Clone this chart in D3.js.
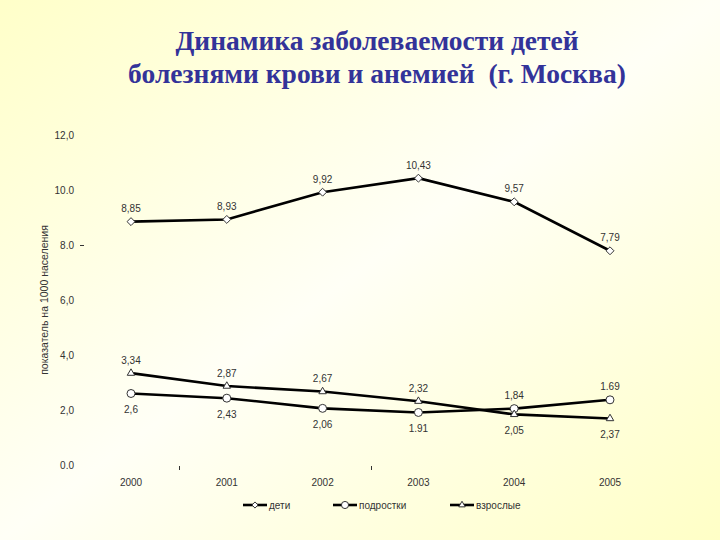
<!DOCTYPE html>
<html>
<head>
<meta charset="utf-8">
<script src="https://cdn.jsdelivr.net/npm/d3@7"></script>
<style>
  html, body { margin: 0; padding: 0; }
  svg { display: block; }
</style>
</head>
<body>
<script>
// ---- data ----
const years = ["2000", "2001", "2002", "2003", "2004", "2005"];
const kids = [8.85, 8.93, 9.92, 10.43, 9.57, 7.79];
const teens = [2.6, 2.43, 2.06, 1.91, 2.05, 2.37];
const adults = [3.34, 2.87, 2.67, 2.32, 1.84, 1.69];
const kidsLabels = ["8,85", "8,93", "9,92", "10,43", "9,57", "7,79"];
const teensLabels = ["2,6", "2,43", "2,06", "1.91", "2,05", "2,37"];
const adultsLabels = ["3,34", "2,87", "2,67", "2,32", "1,84", "1.69"];
const yTickValues = [0, 2, 4, 6, 8, 10, 12];
const yTickLabels = ["0.0", "2,0", "4,0", "6,0", "8.0", "10.0", "12,0"];
const yMarkTicks = [8];
const xMarkTicks = [0.5, 2.5];
const seriesNames = ["дети", "подростки", "взрослые"];
const titleLines = ["Динамика заболеваемости детей", "болезнями крови и анемией  (г. Москва)"];
const yTitle = "показатель на 1000 населения";

// ---- setup ----
const W = 720, H = 540;
const svg = d3.select("body").append("svg").attr("width", W).attr("height", H);

const defs = svg.append("defs");
const grad = defs.append("linearGradient").attr("id", "bg")
  .attr("x1", "0").attr("y1", "0").attr("x2", "1").attr("y2", "1");
grad.append("stop").attr("offset", "0").attr("stop-color", "#ffffc9");
grad.append("stop").attr("offset", "0.5").attr("stop-color", "#fffff6");
grad.append("stop").attr("offset", "1").attr("stop-color", "#ffffc6");
svg.append("rect").attr("width", W).attr("height", H).attr("fill", "url(#bg)");

// title
svg.append("g").selectAll("text").data(titleLines).join("text")
  .attr("x", 377).attr("y", (d, i) => 50 + i * 33)
  .attr("text-anchor", "middle")
  .attr("font-family", "'Liberation Serif', 'Times New Roman', serif")
  .attr("font-weight", "bold").attr("font-size", 27.5)
  .attr("fill", "#333399")
  .style("white-space", "pre")
  .text(d => d);

const x = d3.scalePoint().domain(d3.range(years.length)).range([131, 610]);
const xc = d3.scaleLinear().domain([0, years.length - 1]).range([131, 610]);
const y = d3.scaleLinear().domain([0, 12]).range([465, 135]);

const font = "'Liberation Sans', Arial, sans-serif";
const textCol = "#333";

// y tick labels
svg.append("g").selectAll("text").data(yTickValues).join("text")
  .attr("x", 74).attr("y", d => y(d)).attr("dy", "0.35em")
  .attr("text-anchor", "end").attr("font-family", font).attr("font-size", 10)
  .attr("fill", textCol).text((d, i) => yTickLabels[i]);
svg.append("g").selectAll("line").data(yMarkTicks).join("line")
  .attr("x1", 80).attr("x2", 84).attr("y1", d => y(d) + 0.5).attr("y2", d => y(d) + 0.5)
  .attr("stroke", "#333").attr("stroke-width", 1);

// y title
svg.append("text")
  .attr("transform", `translate(48, ${y(6)}) rotate(-90)`)
  .attr("text-anchor", "middle").attr("font-family", font).attr("font-size", 10.5)
  .attr("fill", textCol).text(yTitle);

// x labels
svg.append("g").selectAll("text").data(years).join("text")
  .attr("x", (d, i) => x(i)).attr("y", 486)
  .attr("text-anchor", "middle").attr("font-family", font).attr("font-size", 10)
  .attr("fill", textCol).text(d => d);
svg.append("g").selectAll("line").data(xMarkTicks).join("line")
  .attr("x1", d => Math.round(xc(d)) + 0.5).attr("x2", d => Math.round(xc(d)) + 0.5)
  .attr("y1", y(0) + 1).attr("y2", y(0) + 5)
  .attr("stroke", "#333").attr("stroke-width", 1);

// lines
const line = d3.line().x((d, i) => x(i)).y(d => y(d));
const allSeries = [kids, teens, adults];
const symbols = [
  d3.symbol().type(d3.symbolDiamond2).size(40),
  d3.symbol().type(d3.symbolCircle).size(50),
  d3.symbol().type(d3.symbolTriangle2).size(40)
];
allSeries.forEach((s, k) => {
  svg.append("path").datum(s).attr("d", line)
    .attr("fill", "none").attr("stroke", "#000").attr("stroke-width", 2.6);
});
allSeries.forEach((s, k) => {
  svg.append("g").selectAll("path").data(s).join("path")
    .attr("transform", (d, i) => `translate(${x(i)},${y(d)})`)
    .attr("d", symbols[k])
    .attr("fill", "#fff").attr("stroke", "#333").attr("stroke-width", 1);
});

// value labels
const lbl = (sel) => sel.attr("text-anchor", "middle").attr("font-family", font)
  .attr("font-size", 10).attr("fill", textCol);
svg.append("g").selectAll("text").data(kids).join("text")
  .attr("x", (d, i) => x(i)).attr("y", d => y(d) - 13).attr("dy", "0.35em")
  .call(lbl).text((d, i) => kidsLabels[i]);
svg.append("g").selectAll("text").data(adults).join("text")
  .attr("x", (d, i) => x(i)).attr("y", (d, i) => Math.min(y(d), y(teens[i])) - 13).attr("dy", "0.35em")
  .call(lbl).text((d, i) => adultsLabels[i]);
svg.append("g").selectAll("text").data(teens).join("text")
  .attr("x", (d, i) => x(i)).attr("y", (d, i) => Math.max(y(d), y(adults[i])) + 16).attr("dy", "0.35em")
  .call(lbl).text((d, i) => teensLabels[i]);

// legend
const legX = [243, 333, 450];
const legendSymbols = [
  d3.symbol().type(d3.symbolDiamond2).size(24),
  d3.symbol().type(d3.symbolCircle).size(40),
  d3.symbol().type(d3.symbolTriangle2).size(30)
];
const leg = svg.append("g").selectAll("g").data(seriesNames).join("g")
  .attr("transform", (d, i) => `translate(${legX[i]}, 505)`);
leg.append("line").attr("x1", 0).attr("x2", 24).attr("stroke", "#000").attr("stroke-width", 2.6);
leg.append("path").attr("transform", "translate(12,0)").attr("d", (d, i) => legendSymbols[i]())
  .attr("fill", "#fff").attr("stroke", "#333").attr("stroke-width", 1);
leg.append("text").attr("x", 26).attr("dy", "0.35em").attr("font-family", font)
  .attr("font-size", 10).attr("fill", textCol).text(d => d);
</script>
</body>
</html>
